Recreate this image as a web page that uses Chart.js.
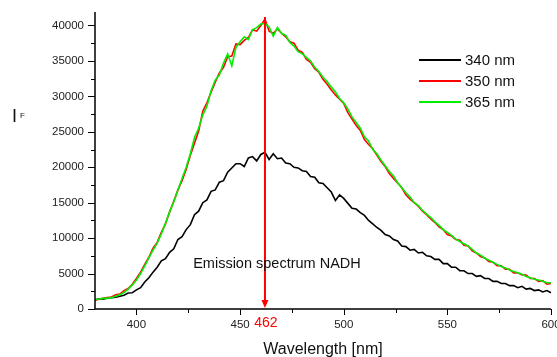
<!DOCTYPE html>
<html>
<head>
<meta charset="utf-8">
<script src="https://cdn.jsdelivr.net/npm/chart.js@4/dist/chart.umd.min.js"></script>
<style>
html,body{margin:0;padding:0;background:#fff;}
#wrap{width:557px;height:357px;position:relative;}
</style>
</head>
<body>
<div id="wrap"><canvas id="c" width="557" height="357"></canvas></div>
<script>
// Wavelengths (nm), 2 nm steps
const wavelengths = [];
for (let w = 380; w <= 600; w += 2) wavelengths.push(w);

const seriesNames = ["340 nm", "350 nm", "365 nm"];
const seriesColors = ["#000000", "#ff0000", "#00ee00"];

const ex340 = [1300,1450,1400,1550,1600,1650,1800,1950,2250,2300,
2700,3000,3800,4400,5200,5900,6800,7100,8000,8500,
9800,10200,11200,11900,13300,13800,15000,15400,16600,16800,
17900,18100,19300,19900,20500,20500,20100,21300,21500,20900,
21800,22100,21100,21900,21200,21300,20600,20500,20000,19900,
19500,19400,18700,18600,17800,17700,17100,16500,15300,16100,
15600,14900,14200,14100,13600,13200,12500,12000,11500,11100,
10500,10300,9800,9600,8900,8800,8300,8400,7900,8000,
7500,7400,7000,7000,6400,6400,5900,5900,5400,5400,
5000,5000,4600,4700,4300,4300,3900,3900,3600,3600,
3300,3300,3000,3200,2800,2900,2600,2700,2400,2600,2300];

const ex350 = [1200,1400,1500,1600,1700,2000,2100,2600,2900,3500,
4300,5200,6300,7300,8600,9400,10800,12000,13700,15200,
16800,18100,19700,21700,23400,25100,27900,29100,30600,32000,
33300,34100,35600,35700,37400,37300,37900,38300,39400,39200,
40000,40900,39200,38900,39500,38900,38400,37700,37500,36500,
36200,35200,34800,33900,33400,32400,31700,30900,30200,29600,
29000,27700,26800,25900,25200,23900,23200,22600,21700,20800,
20100,19100,18400,17800,17100,16100,15500,15000,14500,13800,
13300,12700,12200,11600,11200,10500,10300,9800,9700,9000,
8900,8200,7900,7400,7200,6700,6600,6100,6100,5600,
5600,5100,5100,4800,4800,4300,4300,3900,4000,3500,3600];

const ex365 = [1300,1400,1500,1500,1600,1800,2000,2300,2800,3400,
4100,5000,6100,7200,8300,9300,10600,12100,13700,15100,
16800,18400,20000,21900,24200,25500,27400,28600,30800,32300,
33000,34700,36000,34300,36900,37700,38400,38000,39400,39700,
40200,40300,39800,38500,39700,38900,38600,37600,37100,36300,
36000,35500,35000,34100,33500,32700,32100,31300,30600,29700,
29100,28200,27100,26300,25500,24300,23700,22500,21900,21000,
20200,19400,18800,17800,17100,16400,15800,15000,14600,13900,
13400,12900,12300,11800,11200,10800,10400,9900,9500,9200,
8900,8400,7900,7600,7200,6900,6600,6300,6000,5800,
5500,5300,5100,4900,4600,4400,4200,4100,3900,3700,3700];

const xTicks = [400, 450, 500, 550, 600];
const xMinorTicks = [425, 475, 525, 575];
const yTicks = [0, 5000, 10000, 15000, 20000, 25000, 30000, 35000, 40000];
const yMinorTicks = [2500, 7500, 12500, 17500, 22500, 27500, 32500, 37500];
const peakWavelength = 462;
const annotationText = "Emission spectrum NADH";
const xTitle = "Wavelength [nm]";

const allSeries = [ex340, ex350, ex365];
const datasets = allSeries.map((arr, i) => ({
  label: seriesNames[i],
  data: arr.map((v, k) => ({x: wavelengths[k], y: v})),
  borderColor: seriesColors[i],
  borderWidth: 1.6,
  pointRadius: 0,
  fill: false,
  tension: 0,
  order: 2 - i
}));

const FONT = "'Liberation Sans', Arial, sans-serif";

const decor = {
  id: 'decor',
  afterDatasetsDraw(chart) {
    const ctx = chart.ctx;
    const xs = chart.scales.x, ys = chart.scales.y;
    const a = chart.chartArea;
    ctx.save();
    // axes
    ctx.strokeStyle = '#000';
    ctx.lineWidth = 1.5;
    ctx.beginPath();
    ctx.moveTo(a.left, a.top);
    ctx.lineTo(a.left, a.bottom);
    ctx.lineTo(a.right, a.bottom);
    ctx.stroke();
    ctx.lineWidth = 1;
    ctx.beginPath();
    xTicks.forEach(v => { const p = Math.round(xs.getPixelForValue(v)) + 0.5; ctx.moveTo(p, a.bottom); ctx.lineTo(p, a.bottom + 6); });
    xMinorTicks.forEach(v => { const p = Math.round(xs.getPixelForValue(v)) + 0.5; ctx.moveTo(p, a.bottom); ctx.lineTo(p, a.bottom + 4); });
    yTicks.forEach(v => { const p = Math.round(ys.getPixelForValue(v)) + 0.5; ctx.moveTo(a.left, p); ctx.lineTo(a.left - 7, p); });
    yMinorTicks.forEach(v => { const p = Math.round(ys.getPixelForValue(v)) + 0.5; ctx.moveTo(a.left, p); ctx.lineTo(a.left - 4, p); });
    ctx.stroke();

    // peak arrow
    const px = xs.getPixelForValue(peakWavelength);
    ctx.strokeStyle = '#ff0000';
    ctx.fillStyle = '#ff0000';
    ctx.lineWidth = 2;
    ctx.beginPath();
    ctx.moveTo(px, a.top + 5);
    ctx.lineTo(px, a.bottom - 6);
    ctx.stroke();
    ctx.beginPath();
    ctx.moveTo(px - 3.5, a.bottom - 9);
    ctx.lineTo(px + 3.5, a.bottom - 9);
    ctx.lineTo(px, a.bottom - 1);
    ctx.closePath();
    ctx.fill();

    // peak label
    ctx.font = '14px ' + FONT;
    ctx.textAlign = 'center';
    ctx.textBaseline = 'alphabetic';
    ctx.fillText(String(peakWavelength), px + 1, a.bottom + 18);

    // annotation text
    ctx.fillStyle = '#111';
    ctx.font = '14.5px ' + FONT;
    ctx.fillText(annotationText, px + 12, 268);

    // legend
    ctx.font = '15px ' + FONT;
    ctx.textAlign = 'left';
    ctx.textBaseline = 'middle';
    for (let i = 0; i < seriesNames.length; i++) {
      const yy = 60 + i * 21;
      ctx.strokeStyle = seriesColors[i];
      ctx.lineWidth = 2;
      ctx.beginPath();
      ctx.moveTo(419, yy);
      ctx.lineTo(461, yy);
      ctx.stroke();
      ctx.fillStyle = '#111';
      ctx.fillText(seriesNames[i], 465, yy + 1);
    }

    // axis titles
    ctx.fillStyle = '#111';
    ctx.textAlign = 'center';
    ctx.textBaseline = 'alphabetic';
    ctx.font = '16px ' + FONT;
    ctx.fillText(xTitle, (a.left + a.right) / 2, 354);
    ctx.textAlign = 'left';
    ctx.font = '18px ' + FONT;
    ctx.fillText('I', 12, 122);
    ctx.font = '8px ' + FONT;
    ctx.fillText('F', 20, 118);
    ctx.restore();
  }
};

new Chart(document.getElementById('c'), {
  type: 'line',
  data: { datasets },
  options: {
    responsive: false,
    animation: false,
    devicePixelRatio: 1,
    layout: { padding: { top: 12, right: 6, left: 0, bottom: 0 } },
    plugins: { legend: { display: false }, tooltip: { enabled: false } },
    scales: {
      x: {
        type: 'linear', min: 380, max: 600,
        grid: { display: false, drawTicks: false },
        border: { display: false },
        afterBuildTicks: s => { s.ticks = xTicks.map(v => ({value: v})); },
        afterFit: s => { s.height = 48; s.paddingLeft = 0; s.paddingRight = 0; },
        ticks: { color: '#222', font: { family: FONT, size: 11.5 }, padding: 9, maxRotation: 0,
                 callback: v => String(v) }
      },
      y: {
        type: 'linear', min: 0, max: 41900,
        grid: { display: false, drawTicks: false },
        border: { display: false },
        afterBuildTicks: s => { s.ticks = yTicks.map(v => ({value: v})); },
        afterFit: s => { s.width = 95; s.paddingTop = 0; s.paddingBottom = 0; },
        ticks: { color: '#222', font: { family: FONT, size: 11.5 }, padding: 11,
                 callback: v => String(v) }
      }
    }
  },
  plugins: [decor]
});
</script>
</body>
</html>
